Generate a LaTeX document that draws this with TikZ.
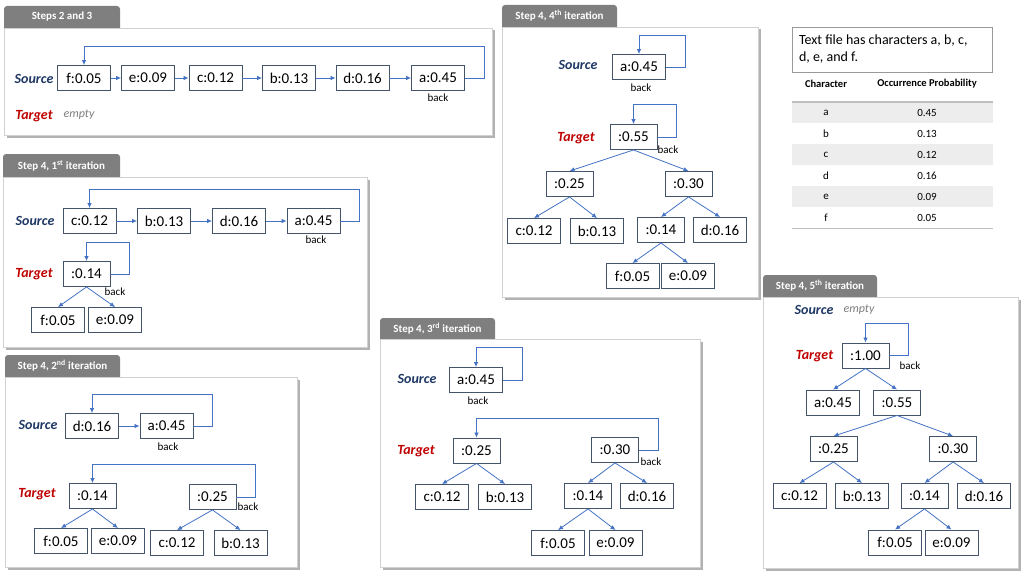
\documentclass[tikz,border=0pt]{standalone}
\usepackage{fontspec}
\setmainfont{Carlito}
\usetikzlibrary{arrows.meta,shadows}
\definecolor{linkblue}{HTML}{4472C4}
\definecolor{boxline}{HTML}{44546A}
\definecolor{srcblue}{HTML}{1F3864}
\definecolor{tgtred}{HTML}{C00000}
\definecolor{tabgray}{HTML}{7F7F7F}
\definecolor{rowgray}{HTML}{EDEDED}
\begin{document}
\begin{tikzpicture}[x=1pt, y=-1pt,
  leaf/.style = {draw=boxline, line width=0.9pt, fill=white, minimum width=53pt, minimum height=25pt, inner sep=0pt, font=\fontsize{15}{17}\selectfont},
  sum/.style = {leaf, minimum width=47pt},
  link/.style = {draw=linkblue, line width=0.8pt, -{Latex[length=5pt,width=4.5pt]}},
  src/.style = {font=\fontsize{14}{16}\selectfont\bfseries\itshape, text=srcblue},
  tgt/.style = {font=\fontsize{14}{16}\selectfont\bfseries\itshape, text=tgtred},
  emptytag/.style = {font=\fontsize{12}{14}\selectfont\itshape, text=tabgray},
  backtag/.style = {font=\fontsize{11}{12}\selectfont, inner sep=0pt},
  panel/.style = {draw=black!18, fill=white, drop shadow={shadow xshift=2.5pt, shadow yshift=-2.5pt, fill=black, opacity=0.3}},
  tabfill/.style = {fill=tabgray, rounded corners=3pt},
  tabtext/.style = {text=white, font=\fontsize{11}{12}\selectfont\bfseries},
  head/.style = {font=\fontsize{10.5}{12}\selectfont\bfseries},
  cell/.style = {font=\fontsize{11}{12}\selectfont}]
  \useasboundingbox (0,0) rectangle (1024,575);

  \fill[tabfill] (4,6) rectangle (120,32);
  \draw[panel] (4,28) rectangle (492,135);
  \node[tabtext] (tab1) at (62,17) {Steps 2 and 3};
  \node[src] (src1) at (34,79) {Source};
  \node[tgt] (tgt1) at (34,116) {Target};
  \node[emptytag] (none1) at (79,115) {empty};
  \node[leaf] (p1f) at (84,78) {f:0.05};
  \node[leaf] (p1e) at (148,78) {e:0.09};
  \node[leaf] (p1c) at (215.5,78) {c:0.12};
  \node[leaf] (p1b) at (289,78) {b:0.13};
  \node[leaf] (p1d) at (362.5,78) {d:0.16};
  \node[leaf] (p1a) at (438,78) {a:0.45};
  \node[backtag] (back1) at (438,98) {back};
  \draw[link] (p1f) -- (p1e);
  \draw[link] (p1e) -- (p1c);
  \draw[link] (p1c) -- (p1b);
  \draw[link] (p1b) -- (p1d);
  \draw[link] (p1d) -- (p1a);
  \draw[link] (p1a.east) -- ++(19,0) -- ++(0,-32) -| (p1f.north);

  \fill[tabfill] (3,154) rectangle (120,181);
  \draw[panel] (3,177) rectangle (367,347);
  \node[tabtext] (tab2) at (61.5,165.5) {Step 4, 1\textsuperscript{st} iteration};
  \node[src] (src2) at (35,221) {Source};
  \node[tgt] (tgt2) at (34,274) {Target};
  \node[leaf] (p2c) at (89.5,221) {c:0.12};
  \node[leaf] (p2b) at (164,221) {b:0.13};
  \node[leaf] (p2d) at (239,221) {d:0.16};
  \node[leaf] (p2a) at (313.5,221) {a:0.45};
  \node[backtag] (back2) at (316,240) {back};
  \draw[link] (p2c) -- (p2b);
  \draw[link] (p2b) -- (p2d);
  \draw[link] (p2d) -- (p2a);
  \draw[link] (p2a.east) -- ++(19,0) -- ++(0,-32) -| (p2c.north);
  \node[sum] (p2n14) at (86.5,274) {:0.14};
  \node[backtag] (back3) at (115,292) {back};
  \node[leaf] (p2f) at (58,320) {f:0.05};
  \node[leaf] (p2e) at (115,320) {e:0.09};
  \draw[link] (p2n14.east) -- ++(19,0) -- ++(0,-32) -| (p2n14.north);
  \draw[link] (p2n14.south) -- (p2f.north);
  \draw[link] (p2n14.south) -- (p2e.north);

  \fill[tabfill] (5,355) rectangle (120,381);
  \draw[panel] (5,377) rectangle (297,567);
  \node[tabtext] (tab3) at (62.5,366) {Step 4, 2\textsuperscript{nd} iteration};
  \node[src] (src3) at (38,425) {Source};
  \node[tgt] (tgt3) at (37,494) {Target};
  \node[leaf] (p3d) at (92,426) {d:0.16};
  \node[leaf] (p3a) at (166.5,426) {a:0.45};
  \node[backtag] (back4) at (168,447) {back};
  \draw[link] (p3d) -- (p3a);
  \draw[link] (p3a.east) -- ++(19,0) -- ++(0,-32) -| (p3d.north);
  \node[sum] (p3n14) at (92.5,496) {:0.14};
  \node[sum] (p3n25) at (212.5,497) {:0.25};
  \node[backtag] (back5) at (248,507) {back};
  \node[leaf] (p3f) at (61,541) {f:0.05};
  \node[leaf] (p3e) at (118,541) {e:0.09};
  \node[leaf] (p3c) at (177,543) {c:0.12};
  \node[leaf] (p3b) at (240.5,543) {b:0.13};
  \draw[link] (p3n25.east) -- ++(19,0) -- ++(0,-33) -| (p3n14.north);
  \draw[link] (p3n14.south) -- (p3f.north);
  \draw[link] (p3n14.south) -- (p3e.north);
  \draw[link] (p3n25.south) -- (p3c.north);
  \draw[link] (p3n25.south) -- (p3b.north);

  \fill[tabfill] (380,318) rectangle (495,343);
  \draw[panel] (380,339) rectangle (700,567);
  \node[tabtext] (tab4) at (437.5,328.5) {Step 4, 3\textsuperscript{rd} iteration};
  \node[src] (src4) at (417,379) {Source};
  \node[tgt] (tgt4) at (416,451) {Target};
  \node[leaf] (p4a) at (476,380) {a:0.45};
  \node[backtag] (back6) at (478,401) {back};
  \draw[link] (p4a.east) -- ++(19,0) -- ++(0,-33) -| (p4a.north);
  \node[sum] (p4n25) at (476.5,450.5) {:0.25};
  \node[sum] (p4n30) at (615,450) {:0.30};
  \node[backtag] (back7) at (651,462) {back};
  \node[leaf] (p4c) at (442,497) {c:0.12};
  \node[leaf] (p4b) at (505,497) {b:0.13};
  \node[sum] (p4n14) at (588,496) {:0.14};
  \node[leaf] (p4d) at (647,496) {d:0.16};
  \node[leaf] (p4f) at (558,543) {f:0.05};
  \node[leaf] (p4e) at (615.5,543) {e:0.09};
  \draw[link] (p4n30.east) -- ++(19,0) -- ++(0,-32) -| (p4n25.north);
  \draw[link] (p4n25.south) -- (p4c.north);
  \draw[link] (p4n25.south) -- (p4b.north);
  \draw[link] (p4n30.south) -- (p4n14.north);
  \draw[link] (p4n30.south) -- (p4d.north);
  \draw[link] (p4n14.south) -- (p4f.north);
  \draw[link] (p4n14.south) -- (p4e.north);

  \fill[tabfill] (502,5) rectangle (617,31);
  \draw[panel] (502,27) rectangle (758,297);
  \node[tabtext] (tab5) at (559.5,16) {Step 4, 4\textsuperscript{th} iteration};
  \node[src] (src5) at (578,65) {Source};
  \node[tgt] (tgt5) at (576,138) {Target};
  \node[leaf] (p5a) at (639,67) {a:0.45};
  \node[backtag] (back8) at (641,88) {back};
  \draw[link] (p5a.east) -- ++(19,0) -- ++(0,-32) -| (p5a.north);
  \node[sum] (p5n55) at (633.5,137) {:0.55};
  \node[backtag] (back9) at (668,150) {back};
  \draw[link] (p5n55.east) -- ++(19,0) -- ++(0,-33) -| (p5n55.north);
  \node[sum] (p5n25) at (569.5,184) {:0.25};
  \node[sum] (p5n30) at (688.5,184) {:0.30};
  \node[leaf] (p5c) at (534,231) {c:0.12};
  \node[leaf] (p5b) at (597,231) {b:0.13};
  \node[sum] (p5n14) at (661,230) {:0.14};
  \node[leaf] (p5d) at (720,230) {d:0.16};
  \node[leaf] (p5f) at (632.5,276) {f:0.05};
  \node[leaf] (p5e) at (688,276) {e:0.09};
  \draw[link] (p5n55.south) -- (p5n25.north);
  \draw[link] (p5n55.south) -- (p5n30.north);
  \draw[link] (p5n25.south) -- (p5c.north);
  \draw[link] (p5n25.south) -- (p5b.north);
  \draw[link] (p5n30.south) -- (p5n14.north);
  \draw[link] (p5n30.south) -- (p5d.north);
  \draw[link] (p5n14.south) -- (p5f.north);
  \draw[link] (p5n14.south) -- (p5e.north);

  \fill[tabfill] (763,275) rectangle (877,301);
  \draw[panel] (763,297) rectangle (1018,568);
  \node[tabtext] (tab6) at (820,286) {Step 4, 5\textsuperscript{th} iteration};
  \node[src] (src6) at (814,310) {Source};
  \node[emptytag] (none6) at (859,310) {empty};
  \node[tgt] (tgt6) at (814.5,356) {Target};
  \node[sum] (p6n100) at (865.5,355.5) {:1.00};
  \node[backtag] (back10) at (910,366) {back};
  \draw[link] (p6n100.east) -- ++(19,0) -- ++(0,-32) -| (p6n100.north);
  \node[leaf] (p6a) at (833,402.5) {a:0.45};
  \node[sum] (p6n55) at (897,402.5) {:0.55};
  \node[sum] (p6n25) at (833.5,449) {:0.25};
  \node[sum] (p6n30) at (953,449) {:0.30};
  \node[leaf] (p6c) at (799.5,496) {c:0.12};
  \node[leaf] (p6b) at (862,496) {b:0.13};
  \node[sum] (p6n14) at (924.5,496) {:0.14};
  \node[leaf] (p6d) at (984,496) {d:0.16};
  \node[leaf] (p6f) at (895,542.5) {f:0.05};
  \node[leaf] (p6e) at (951.5,542.5) {e:0.09};
  \draw[link] (p6n100.south) -- (p6a.north);
  \draw[link] (p6n100.south) -- (p6n55.north);
  \draw[link] (p6n55.south) -- (p6n25.north);
  \draw[link] (p6n55.south) -- (p6n30.north);
  \draw[link] (p6n25.south) -- (p6c.north);
  \draw[link] (p6n25.south) -- (p6b.north);
  \draw[link] (p6n30.south) -- (p6n14.north);
  \draw[link] (p6n30.south) -- (p6d.north);
  \draw[link] (p6n14.south) -- (p6f.north);
  \draw[link] (p6n14.south) -- (p6e.north);

  \node[draw=black!40, line width=0.8pt, minimum width=200pt, minimum height=45pt, inner xsep=7pt, text width=186pt, align=flush left, font=\fontsize{14}{17}\selectfont] (info) at (892,49.5) {Text file has characters a, b, c,\\d, e, and f.};
  \node[head] (hch) at (826,84) {Character};
  \node[head] (hpr) at (927,84) {Occurrence Probability};
  \foreach \ch/\pr [count=\i] in {a/0.45,b/0.13,c/0.12,d/0.16,e/0.09,f/0.05} {
    \ifodd\i \fill[rowgray] (792,{81+21*\i}) rectangle (993,{102+21*\i}); \fi
    \node[cell] (ch\i) at (826,{91.5+21*\i}) {\ch};
    \node[cell] (pr\i) at (927,{91.5+21*\i}) {\pr};
  }
  \draw[black!25, line width=1.5pt] (792,102) -- (993,102);
  \draw[black!25, line width=1pt] (792,228) -- (993,228);
\end{tikzpicture}
\end{document}
